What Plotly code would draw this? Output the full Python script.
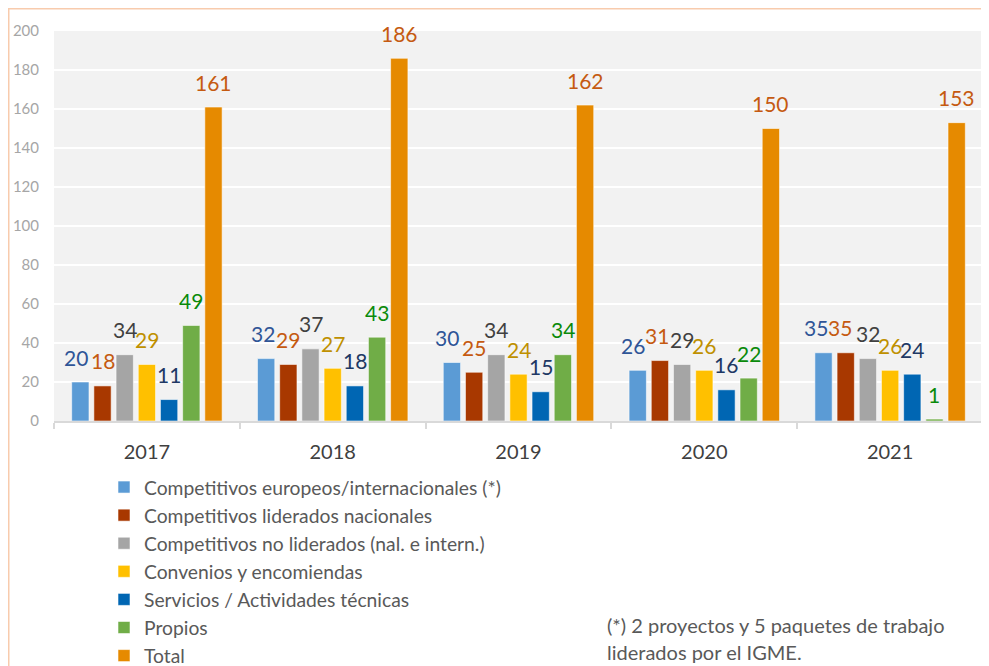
import plotly.graph_objects as go

years = ["2017", "2018", "2019", "2020", "2021"]
series_names = [
    "Competitivos europeos/internacionales (*)",
    "Competitivos liderados nacionales",
    "Competitivos no liderados (nal. e intern.)",
    "Convenios y encomiendas",
    "Servicios / Actividades técnicas",
    "Propios",
    "Total",
]
comp_europeos = [20, 32, 30, 26, 35]
comp_nacionales = [18, 29, 25, 31, 35]
comp_no_liderados = [34, 37, 34, 29, 32]
convenios = [29, 27, 24, 26, 26]
servicios = [11, 18, 15, 16, 24]
propios = [49, 43, 34, 22, 1]
total = [161, 186, 162, 150, 153]
y_ticks = [0, 20, 40, 60, 80, 100, 120, 140, 160, 180, 200]
footnote_lines = ["(*) 2 proyectos y 5 paquetes de trabajo", "liderados por el IGME."]

series_values = [comp_europeos, comp_nacionales, comp_no_liderados, convenios,
                 servicios, propios, total]
bar_colors = ["#5b9bd5", "#a83800", "#a5a5a5", "#ffc000", "#0066b3", "#70ad47", "#e68a00"]
label_colors = ["#2f5597", "#c55a11", "#404040", "#bf9000", "#203864", "#0a8a0a", "#c55a11"]
# small horizontal nudges (px) of some value labels, as in the original
label_nudge = {(0, 0): -4, (0, 1): -3, (0, 2): -5, (0, 3): -5, (0, 4): -8,
               (1, 3): -3, (1, 4): -6}

# The page body has an 8px default margin, so the figure is drawn offset by 8px.
PAGE = 8
W, H = 989, 666
# target plot area in screen pixels: x 54..983, y 31..421
ML = 54 - PAGE
MT = 31 - PAGE
MR = W - (983 - PAGE)
MB = H - (421 - PAGE)
plot_w = W - ML - MR
plot_h = H - MT - MB
PLOT_BOTTOM = MT + plot_h


def px(xs):
    return (xs - PAGE - ML) / plot_w


def py(ys):
    return (PLOT_BOTTOM - (ys - PAGE)) / plot_h


BARGAP = 0.164
BARGROUPGAP = 0.22
FONT = "Lato, 'Open Sans', sans-serif"

fig = go.Figure()
for name, vals, col in zip(series_names, series_values, bar_colors):
    fig.add_trace(go.Bar(
        name=name, x=years, y=vals,
        marker=dict(color=col, line=dict(color="rgba(255,255,255,0.55)", width=1)),
        hoverinfo="x+y+name",
    ))

cat_w = plot_w / len(years)
pitch = cat_w * (1 - BARGAP) / len(series_names)
annotations = []
for i, (vals, lc) in enumerate(zip(series_values, label_colors)):
    for j, v in enumerate(vals):
        annotations.append(dict(
            x=j, y=v, xref="x", yref="y", text=str(v), showarrow=False,
            xshift=(i - (len(series_names) - 1) / 2) * pitch + label_nudge.get((i, j), 0),
            yshift=25, yanchor="middle", xanchor="center",
            font=dict(family=FONT, size=21, color=lc),
        ))

for k, line in enumerate(footnote_lines):
    annotations.append(dict(
        x=px(605), y=py(625 + 27 * k),
        xref="paper", yref="paper", xanchor="left", yanchor="middle",
        text=line, showarrow=False,
        font=dict(family=FONT, size=20, color="#595959"),
    ))

fig.update_layout(
    width=W, height=H,
    margin=dict(l=ML, r=MR, t=MT, b=MB, pad=0, autoexpand=False),
    barmode="group", bargap=BARGAP, bargroupgap=BARGROUPGAP,
    paper_bgcolor="white", plot_bgcolor="#f2f2f2",
    font=dict(family=FONT),
    showlegend=True,
    legend=dict(
        orientation="v", x=px(104), y=py(468),
        xanchor="left", yanchor="top",
        font=dict(family=FONT, size=19.3, color="#595959"),
        bgcolor="rgba(0,0,0,0)", itemclick=False,
    ),
    annotations=annotations,
    shapes=[dict(
        type="rect", xref="paper", yref="paper",
        x0=px(8.5), x1=px(1010),
        y0=py(740), y1=py(8.5),
        line=dict(color="#f8cbad", width=2), fillcolor="rgba(0,0,0,0)", layer="below",
    )],
    xaxis=dict(
        type="category", tickson="boundaries", ticks="outside", ticklen=6,
        tickcolor="#d9d9d9", tickwidth=1.5,
        showline=True, linecolor="#d9d9d9", linewidth=1.5, showgrid=False,
        tickfont=dict(family=FONT, size=20, color="#404040"),
        ticklabelstandoff=12,
    ),
    yaxis=dict(
        range=[0, 200], tickvals=y_ticks, showgrid=True, gridcolor="white", gridwidth=1.5,
        zeroline=False, showline=False,
        tickfont=dict(family=FONT, size=15, color="#a6a6a6"),
        ticklabelstandoff=14,
    ),
)

fig.write_html("out.html")
